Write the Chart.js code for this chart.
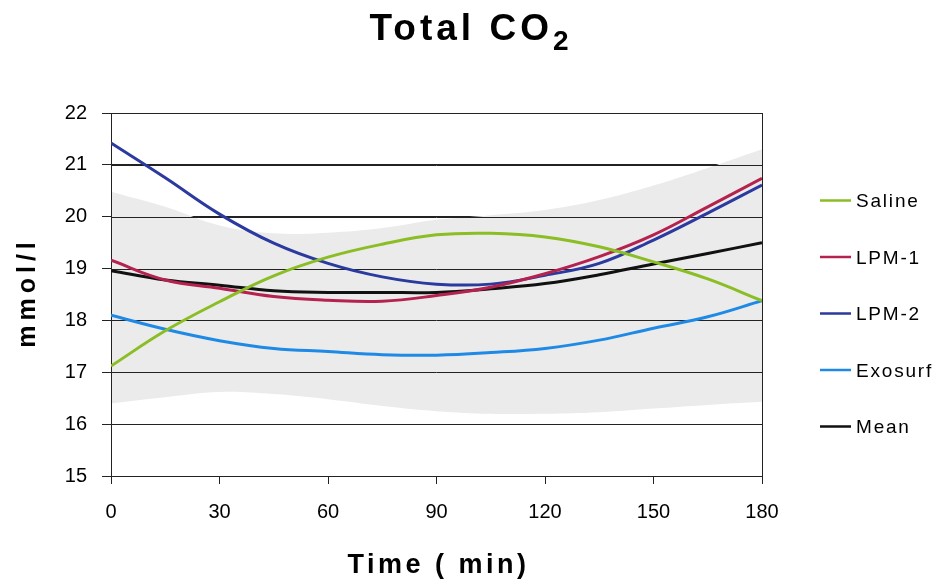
<!DOCTYPE html>
<html>
<head>
<meta charset="utf-8">
<script src="https://cdn.jsdelivr.net/npm/chart.js@4.4.1/dist/chart.umd.min.js"></script>
<style>
html,body{margin:0;padding:0;background:#ffffff;}
#wrap{width:942px;height:583px;position:relative;}
canvas{display:block;}
</style>
</head>
<body>
<div id="wrap"><canvas id="c" width="942" height="583"></canvas></div>
<script>
// ---- data ----
const times     = [0, 15, 30, 45, 60, 75, 90, 105, 120, 135, 150, 165, 180];
const saline    = [17.12, 17.80, 18.36, 18.86, 19.22, 19.47, 19.65, 19.68, 19.61, 19.42, 19.13, 18.80, 18.38];
const lpm1      = [19.16, 18.78, 18.62, 18.46, 18.39, 18.37, 18.48, 18.64, 18.90, 19.23, 19.65, 20.19, 20.74];
const lpm2      = [21.42, 20.75, 20.05, 19.49, 19.10, 18.84, 18.70, 18.70, 18.87, 19.10, 19.55, 20.07, 20.61];
const exosurf   = [18.10, 17.83, 17.61, 17.46, 17.40, 17.34, 17.33, 17.38, 17.46, 17.62, 17.85, 18.07, 18.38];
const mean      = [18.96, 18.78, 18.68, 18.57, 18.54, 18.54, 18.54, 18.61, 18.71, 18.88, 19.09, 19.29, 19.50];
const bandUpper = [20.48, 20.19, 19.83, 19.68, 19.69, 19.78, 19.94, 20.03, 20.13, 20.32, 20.60, 20.94, 21.30];
const bandLower = [16.40, 16.52, 16.62, 16.58, 16.48, 16.35, 16.25, 16.20, 16.20, 16.23, 16.30, 16.37, 16.43];

const seriesNames  = ['Saline', 'LPM-1', 'LPM-2', 'Exosurf', 'Mean'];
const seriesColors = ['#8bbd24', '#b5224f', '#2b3a9e', '#1f8ae6', '#111111'];
const seriesValues = [saline, lpm1, lpm2, exosurf, mean];

const titleMain = 'Total CO';
const titleSub  = '2';
const xTitle = 'Time ( min)';
const yTitle = 'mmol/l';

const FONT = '"Liberation Sans", Arial, Helvetica, sans-serif';
const GRID = '#222222';

function pts(arr){ return arr.map((v,i)=>({x: times[i], y: v})); }

const datasets = seriesValues.map((vals, i) => ({
  label: seriesNames[i],
  data: pts(vals),
  borderColor: seriesColors[i],
  backgroundColor: seriesColors[i],
  borderWidth: 3,
  pointRadius: 0,
  tension: 0.4,
  fill: false,
  order: 1
}));
const BAND_U = datasets.length;
datasets.push({
  label: 'band-upper',
  data: pts(bandUpper),
  borderColor: 'rgba(0,0,0,0)',
  borderWidth: 0,
  pointRadius: 0,
  tension: 0.4,
  fill: '+1',
  backgroundColor: '#ebebeb',
  order: 10
});
datasets.push({
  label: 'band-lower',
  data: pts(bandLower),
  borderColor: 'rgba(0,0,0,0)',
  borderWidth: 0,
  pointRadius: 0,
  tension: 0.4,
  fill: false,
  order: 10
});

const customPlugin = {
  id: 'customText',
  afterDatasetDraw(chart, args) {
    if (args.index !== BAND_U) return;
    // redraw grid lines and axis lines over the grey band
    const ctx = chart.ctx, y = chart.scales.y, a = chart.chartArea;
    ctx.save();
    ctx.strokeStyle = GRID;
    ctx.lineWidth = 1;
    y.ticks.forEach(t => {
      const py = Math.round(y.getPixelForValue(t.value)) + 0.5;
      ctx.beginPath();
      ctx.moveTo(a.left, py);
      ctx.lineTo(a.right, py);
      ctx.stroke();
    });
    const lx = Math.round(a.left) + 0.5;
    ctx.beginPath();
    ctx.moveTo(lx, a.top);
    ctx.lineTo(lx, a.bottom);
    ctx.stroke();
    const rx = Math.round(a.right) + 0.5;
    ctx.beginPath();
    ctx.moveTo(rx, a.top);
    ctx.lineTo(rx, a.bottom);
    ctx.stroke();
    ctx.restore();
  },
  afterDraw(chart) {
    const ctx = chart.ctx, a = chart.chartArea;
    ctx.save();
    ctx.fillStyle = '#000';
    ctx.textBaseline = 'alphabetic';
    // title with subscript
    ctx.letterSpacing = '4px';
    ctx.font = 'bold 37px ' + FONT;
    const w1 = ctx.measureText(titleMain).width;
    ctx.font = 'bold 28px ' + FONT;
    const w2 = ctx.measureText(titleSub).width;
    const sx = chart.width / 2 - (w1 + w2) / 2;
    ctx.textAlign = 'left';
    ctx.font = 'bold 37px ' + FONT;
    ctx.fillText(titleMain, sx, 40);
    ctx.font = 'bold 28px ' + FONT;
    ctx.fillText(titleSub, sx + w1, 50);

    // x title
    ctx.letterSpacing = '3.5px';
    ctx.font = 'bold 27px ' + FONT;
    ctx.textAlign = 'center';
    ctx.fillText(xTitle, (a.left + a.right) / 2 + 2, 573);

    // y title
    ctx.save();
    ctx.letterSpacing = '5px';
    ctx.font = 'bold 25px ' + FONT;
    ctx.translate(35, (a.top + a.bottom) / 2);
    ctx.rotate(-Math.PI / 2);
    ctx.textAlign = 'center';
    ctx.fillText(yTitle, 2, 0);
    ctx.restore();

    // legend
    ctx.letterSpacing = '1.8px';
    ctx.font = '19px ' + FONT;
    ctx.textAlign = 'left';
    const baseY = 207, step = 56.5;
    for (let i = 0; i < seriesNames.length; i++) {
      const by = baseY + i * step;
      ctx.strokeStyle = seriesColors[i];
      ctx.lineWidth = 2.5;
      ctx.beginPath();
      ctx.moveTo(820, by - 6.5);
      ctx.lineTo(851, by - 6.5);
      ctx.stroke();
      ctx.fillStyle = '#000';
      ctx.fillText(seriesNames[i], 856, by);
    }
    ctx.restore();
  }
};

Chart.defaults.font.family = FONT;
Chart.defaults.color = '#000';

new Chart(document.getElementById('c'), {
  type: 'line',
  data: { datasets },
  options: {
    responsive: false,
    animation: false,
    events: [],
    layout: { padding: { top: 113, right: 180, left: 0, bottom: 0 } },
    plugins: { legend: { display: false }, title: { display: false }, tooltip: { enabled: false } },
    scales: {
      x: {
        type: 'linear',
        min: 0, max: 180,
        ticks: { stepSize: 30, font: { size: 20 }, color: '#000', padding: 16, maxRotation: 0 },
        grid: { drawOnChartArea: false, drawTicks: true, tickLength: 8, color: GRID, lineWidth: 1 },
        border: { display: true, color: GRID, width: 1 },
        afterFit(s) { s.height = 107; }
      },
      y: {
        min: 15, max: 22,
        ticks: { stepSize: 1, font: { size: 20 }, color: '#000', padding: 15 },
        grid: { drawOnChartArea: true, drawTicks: true, tickLength: 9, color: GRID, lineWidth: 1 },
        border: { display: true, color: GRID, width: 1 },
        afterFit(s) { s.width = 111; }
      }
    }
  },
  plugins: [customPlugin]
});
</script>
</body>
</html>
